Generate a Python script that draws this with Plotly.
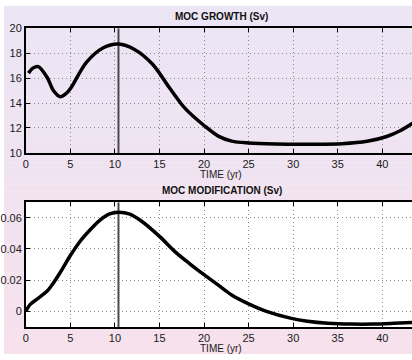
import plotly.graph_objects as go

# ---- data ----
t_growth = [0.3, 0.8, 1.4, 2.4, 3.1, 3.85, 4.5, 5.0, 6.8, 8.7, 10.4, 12.2, 14.2, 16.1, 17.9, 20.0, 21.6,
            23.1, 25.0, 28.0, 32.0, 35.5, 38.3, 40.5, 42.0, 43.4]
v_growth = [16.40, 16.80, 16.92, 16.05, 15.00, 14.50, 14.75, 15.15, 17.26, 18.43, 18.73, 18.30, 17.13,
            15.25, 13.55, 12.20, 11.35, 10.95, 10.80, 10.72, 10.70, 10.74, 10.93, 11.32, 11.78, 12.38]

t_mod = [0.0, 0.5, 1.3, 2.4, 3.1, 4.0, 5.0, 6.1, 7.2, 8.3, 9.4, 10.4, 11.6, 13.0, 15.0, 16.8, 18.4,
         20.0, 21.6, 23.1, 25.0, 27.0, 29.8, 31.6, 33.9, 36.5, 39.0, 41.3, 43.4]
v_mod = [0.0000, 0.0045, 0.0080, 0.0130, 0.0182, 0.0262, 0.0358, 0.0450, 0.0522, 0.0584, 0.0625, 0.0636,
         0.0625, 0.0578, 0.0481, 0.0380, 0.0305, 0.0235, 0.0168, 0.0105, 0.0048, 0.0000, -0.0045,
         -0.0063, -0.0076, -0.0082, -0.0082, -0.0077, -0.0071]

peak_time = 10.4

x_ticks = [0, 5, 10, 15, 20, 25, 30, 35, 40]
y_ticks_growth = [10, 12, 14, 16, 18, 20]
y_ticks_mod = [0, 0.02, 0.04, 0.06]
y_ticktext_mod = ["0", "0.02", "0.04", "0.06"]

titles = ["MOC GROWTH (Sv)", "MOC MODIFICATION (Sv)"]
x_title = "TIME (yr)"

# ---- figure ----
W, H = 412, 360
x_left = 22 / W
top_dom = [1 - 152 / H, 1 - 23 / H]
bot_dom = [1 - 332 / H, 1 - 203 / H]
x_range = [0, (W - 22) / 9.0]

fig = go.Figure()

fig.add_trace(go.Scatter(x=[peak_time, peak_time], y=[10, 20], mode="lines",
                         line=dict(color="#4a4a4a", width=2), xaxis="x", yaxis="y",
                         hoverinfo="skip", showlegend=False))
fig.add_trace(go.Scatter(x=t_growth, y=v_growth, mode="lines",
                         line=dict(color="black", width=3.5, shape="spline", smoothing=0.9),
                         xaxis="x", yaxis="y", showlegend=False))
fig.add_trace(go.Scatter(x=[peak_time, peak_time], y=[-0.01, 0.07], mode="lines",
                         line=dict(color="#4a4a4a", width=2), xaxis="x2", yaxis="y2",
                         hoverinfo="skip", showlegend=False))
fig.add_trace(go.Scatter(x=t_mod, y=v_mod, mode="lines",
                         line=dict(color="black", width=3.5, shape="spline", smoothing=0.9),
                         xaxis="x2", yaxis="y2", showlegend=False))

# gradient background
shapes = []
n = 60
c0 = (235, 229, 245)
c1 = (246, 225, 236)
for i in range(n):
    f = i / (n - 1)
    c = tuple(round(c0[k] + (c1[k] - c0[k]) * f) for k in range(3))
    shapes.append(dict(type="rect", xref="paper", yref="paper", x0=0, x1=1,
                       y0=1 - (i + 1) / n, y1=1 - i / n + 0.001, line=dict(width=0),
                       fillcolor="rgb(%d,%d,%d)" % c, layer="below"))
shapes.append(dict(type="rect", xref="x2 domain", yref="y2 domain", x0=0, x1=1,
                   y0=0, y1=1, line=dict(width=0),
                   fillcolor="white", layer="below"))

axis_font = dict(family="Liberation Sans, Arial, sans-serif", size=11, color="#1a1a1a")
grid = dict(showgrid=True, gridcolor="#8a8a8a", griddash="1px,3px", gridwidth=1)
common_x = dict(range=x_range, tickvals=x_ticks, **grid, showline=True, linecolor="black",
                linewidth=1.5, mirror="ticks", ticks="inside", ticklen=4, tickcolor="black",
                zeroline=False, tickfont=axis_font, domain=[x_left, 1])
common_y = dict(**grid, showline=True, linecolor="black", linewidth=1.5, mirror=False,
                ticks="inside", ticklen=4, tickcolor="black", zeroline=False,
                tickfont=axis_font)

fig.update_layout(
    width=W, height=H, margin=dict(l=0, r=0, t=0, b=0),
    paper_bgcolor="rgba(0,0,0,0)", plot_bgcolor="rgba(0,0,0,0)",
    shapes=shapes,
    xaxis=dict(**common_x, anchor="y"),
    yaxis=dict(**common_y, range=[10, 20], tickvals=y_ticks_growth, domain=top_dom, anchor="x"),
    xaxis2=dict(**common_x, anchor="y2"),
    yaxis2=dict(**common_y, range=[-0.01, 0.07], tickvals=y_ticks_mod, ticktext=y_ticktext_mod,
                domain=bot_dom, anchor="x2"),
    annotations=[
        dict(text="<b>%s</b>" % titles[0], x=220 / W, y=1 - 11 / H, xref="paper", yref="paper",
             showarrow=False, font=dict(family="Liberation Sans, Arial", size=10, color="#111"),
             xanchor="center", yanchor="middle"),
        dict(text="<b>%s</b>" % titles[1], x=220 / W, y=1 - 191 / H, xref="paper", yref="paper",
             showarrow=False, font=dict(family="Liberation Sans, Arial", size=10, color="#111"),
             xanchor="center", yanchor="middle"),
        dict(text=x_title, x=219 / W, y=1 - 174 / H, xref="paper", yref="paper",
             showarrow=False, font=dict(family="Liberation Sans, Arial", size=10, color="#1a1a1a"),
             xanchor="center", yanchor="middle"),
        dict(text=x_title, x=219 / W, y=1 - 354 / H, xref="paper", yref="paper",
             showarrow=False, font=dict(family="Liberation Sans, Arial", size=10, color="#1a1a1a"),
             xanchor="center", yanchor="middle"),
    ],
)

fig.write_html("out.html")
